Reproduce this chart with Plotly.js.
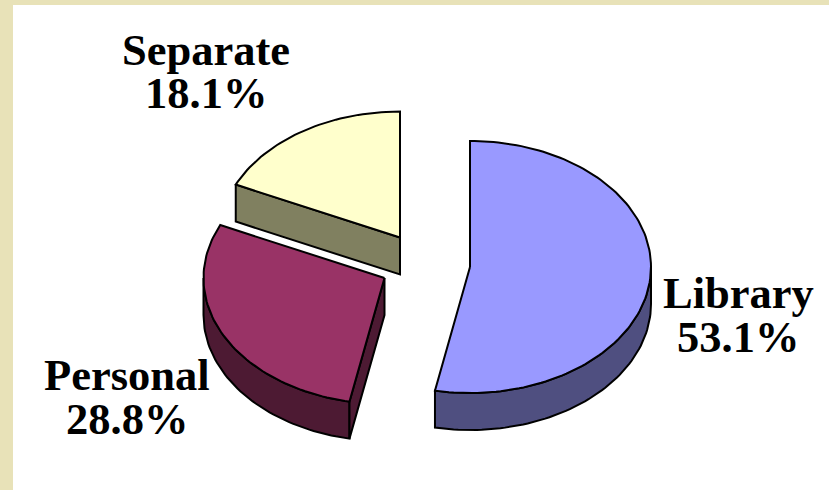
<!DOCTYPE html>
<html>
<head>
<meta charset="utf-8">
<script src="https://cdn.plot.ly/plotly-3.0.1.min.js"></script>
<style>html,body{margin:0;padding:0;background:#fff}#chart{width:829px;height:490px}</style>
</head>
<body>
<div id="chart"></div>
<script>
// Data
const categories = ["Library", "Personal", "Separate"];
const shares = [53.1, 28.8, 18.1];

// Styling and pie geometry, separate from the data
const topColors = ["#9999FF", "#993366", "#FFFFCC"];
const wallColors = ["#4F4F80", "#4D1A33", "#808060"];
const PANEL = "#E8E2B8";
const RX = 181, RY = 126, DEPTH = 37;
const apexes = [[470, 267], [384.5, 278], [400, 237.5]];
const labelAnchors = [[738, 293, 337], [127, 375, 419], [206, 50, 93]];
const FONT = {family: '"Liberation Serif", "Times New Roman", serif', size: 44.5, color: "#000"};
const EDGE = {color: "#000", width: 2};

// Build cumulative clockwise slice angles; Library starts at 12 o'clock
const total = shares.reduce((a, b) => a + b, 0);
let running = 0;
const spans = shares.map(v => { const s = running; running += v; return [s / total * 360, running / total * 360]; });

function point(apex, deg, drop) {
  const r = deg * Math.PI / 180;
  return [apex[0] + RX * Math.sin(r), apex[1] - RY * Math.cos(r) + (drop || 0)];
}
function arc(apex, a, b, drop) {
  const out = [];
  const n = Math.max(2, Math.ceil(Math.abs(b - a) / 1.5));
  for (let i = 0; i <= n; i++) out.push(point(apex, a + (b - a) * i / n, drop));
  return out;
}
function poly(pts, color) {
  const closed = pts.concat([pts[0]]);
  return {
    type: "scatter", mode: "lines", x: closed.map(p => p[0]), y: closed.map(p => p[1]),
    fill: "toself", fillcolor: color, line: EDGE, hoverinfo: "skip", showlegend: false
  };
}

const traces = [];
shares.forEach((v, i) => {
  const apex = apexes[i];
  const [a, b] = spans[i];
  // outer rim: only the front half of the circle (90..270 degrees) faces the viewer
  const wa = Math.max(a, 90), wb = Math.min(b, 270);
  if (wb > wa) {
    traces.push(poly(arc(apex, wa, wb, 0).concat(arc(apex, wb, wa, DEPTH)), wallColors[i]));
  }
  // cut faces turned to the viewer
  if (i === 1) {
    const e = point(apex, a), d = point(apex, a, DEPTH);
    traces.push(poly([apex, [apex[0], apex[1] + DEPTH], d, e], wallColors[i]));
  }
  if (i === 2) {
    const e = point(apex, a), d = point(apex, a, DEPTH);
    traces.push(poly([e, apex, [apex[0], apex[1] + DEPTH], d], wallColors[i]));
  }
  // top face
  traces.push(poly([apex].concat(arc(apex, a, b, 0)), topColors[i]));
});

const annotations = [];
categories.forEach((name, i) => {
  const [x, y1, y2] = labelAnchors[i];
  const base = {x, xref: "x", yref: "y", showarrow: false, font: FONT, xanchor: "center", yanchor: "middle"};
  annotations.push(Object.assign({y: y1, text: "<b>" + name + "</b>"}, base));
  annotations.push(Object.assign({y: y2, text: "<b>" + shares[i].toFixed(1) + "%</b>"}, base));
});

const hidden = {visible: false, fixedrange: true};
const layout = {
  width: 829, height: 490,
  margin: {l: 13, r: 0, t: 5, b: 0, pad: 0},
  paper_bgcolor: PANEL, plot_bgcolor: "#FFFFFF",
  xaxis: Object.assign({range: [13, 829]}, hidden),
  yaxis: Object.assign({range: [490, 5]}, hidden),
  showlegend: false, annotations
};
Plotly.newPlot("chart", traces, layout, {displayModeBar: false, staticPlot: true});
</script>
</body>
</html>
